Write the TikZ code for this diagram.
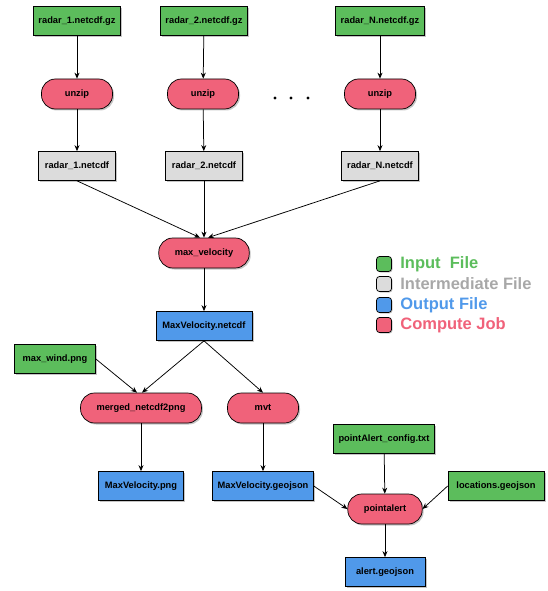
\documentclass[tikz,border=0pt]{standalone}
\usepackage{fontspec}
\setmainfont{Liberation Sans}
\usetikzlibrary{shadows,arrows.meta}
\definecolor{ingreen}{HTML}{5CBD5C}
\definecolor{midgray}{HTML}{DCDCDC}
\definecolor{outblue}{HTML}{5099EA}
\definecolor{jobred}{HTML}{F0627A}
\definecolor{keygray}{HTML}{A8A8A8}

\begin{document}
\begin{tikzpicture}[x=1pt,y=-1pt,>={Stealth[length=6pt,width=5pt]},
  every path/.style={line width=0.75pt},
  box/.style={draw,line width=0.7pt,minimum height=29pt,
    font=\bfseries\fontsize{9.3}{11}\selectfont,
    drop shadow={shadow xshift=1.5pt,shadow yshift=-1.5pt,fill=black!45}},
  infile/.style={box,fill=ingreen,inner xsep=5pt,minimum width=78pt},
  midfile/.style={box,fill=midgray,inner xsep=5pt,minimum width=77pt},
  outfile/.style={box,fill=outblue,inner xsep=5pt,minimum width=80pt},
  job/.style={box,fill=jobred,rounded corners=14pt,minimum height=30pt,
    inner xsep=16pt,minimum width=71pt},
  keybox/.style={draw,line width=0.7pt,rounded corners=3pt,
    minimum width=15pt,minimum height=15pt,inner sep=0pt,
    drop shadow={shadow xshift=1pt,shadow yshift=-1pt,fill=black!45}},
  keytext/.style={anchor=west,inner sep=0pt,
    font=\bfseries\fontsize{16.5}{18}\selectfont}]
  \useasboundingbox (0,0) rectangle (548,591);

  % Entradas comprimidas
  \node[infile] (in1) at (77,21)  {radar\_1.netcdf.gz};
  \node[infile] (in2) at (204,21) {radar\_2.netcdf.gz};
  \node[infile] (inN) at (380,21) {radar\_N.netcdf.gz};

  % Descompresion
  \node[job] (uz1) at (77,94)  {unzip};
  \node[job] (uz2) at (203,94) {unzip};
  \node[job] (uzN) at (380,94) {unzip};
  \foreach \x in {275,291,308}
    \fill (\x,98) circle (1.6pt);

  % Archivos intermedios
  \node[midfile] (nc1) at (77,166)  {radar\_1.netcdf};
  \node[midfile] (nc2) at (204,166) {radar\_2.netcdf};
  \node[midfile] (ncN) at (380,166) {radar\_N.netcdf};

  \foreach \i in {1,2,N} {
    \draw[->] (in\i) -- (uz\i);
    \draw[->] (uz\i) -- (nc\i);
  }

  % Velocidad maxima
  \node[job,minimum width=90pt] (mv) at (204,253) {max\_velocity};
  \node[outfile,minimum width=96pt] (mvnc) at (204,326) {MaxVelocity.netcdf};
  \draw[->] (nc1.south) -- ([xshift=-4pt]mv.north);
  \draw[->] (nc2) -- (mv);
  \draw[->] (ncN.south) -- ([xshift=4pt]mv.north);
  \draw[->] (mv) -- (mvnc);

  % Productos
  \node[infile,minimum width=81pt] (wind) at (55,359) {max\_wind.png};
  \node[job] (merge) at (141,408) {merged\_netcdf2png};
  \node[job] (mvt) at (263,408) {mvt};
  \node[outfile,minimum width=85pt] (mvpng) at (141,486) {MaxVelocity.png};
  \node[outfile] (mvgeo) at (263,486) {MaxVelocity.geojson};
  \draw[->] (wind.east) -- ([xshift=-4pt]merge.north);
  \draw[->] (mvnc.south) -- ([xshift=1pt]merge.north);
  \draw[->] (mvnc.south) -- (mvt.north);
  \draw[->] (merge) -- (mvpng);
  \draw[->] (mvt) -- (mvgeo);

  % Alertas
  \node[infile] (cfg) at (384,439) {pointAlert\_config.txt};
  \node[infile,minimum width=96pt] (loc) at (496,486) {locations.geojson};
  \node[job] (pa) at (385,509) {pointalert};
  \node[outfile] (alert) at (385,572) {alert.geojson};
  \draw[->] (cfg) -- (pa);
  \draw[->] (mvgeo.east) -- (pa.west);
  \draw[->] (loc.west) -- (pa.east);
  \draw[->] (pa) -- (alert);

  % Leyenda
  \node[keybox,fill=ingreen]  (k1) at (384,264) {};
  \node[keybox,fill=midgray]  (k2) at (384,284) {};
  \node[keybox,fill=outblue]  (k3) at (384,305) {};
  \node[keybox,fill=jobred]   (k4) at (384,325) {};
  \node[keytext,text=ingreen] (t1) at (400,264) {Input\ \ File};
  \node[keytext,text=keygray] (t2) at (400,284) {Intermediate File};
  \node[keytext,text=outblue] (t3) at (400,305) {Output File};
  \node[keytext,text=jobred]  (t4) at (400,325) {Compute Job};
\end{tikzpicture}
\end{document}
